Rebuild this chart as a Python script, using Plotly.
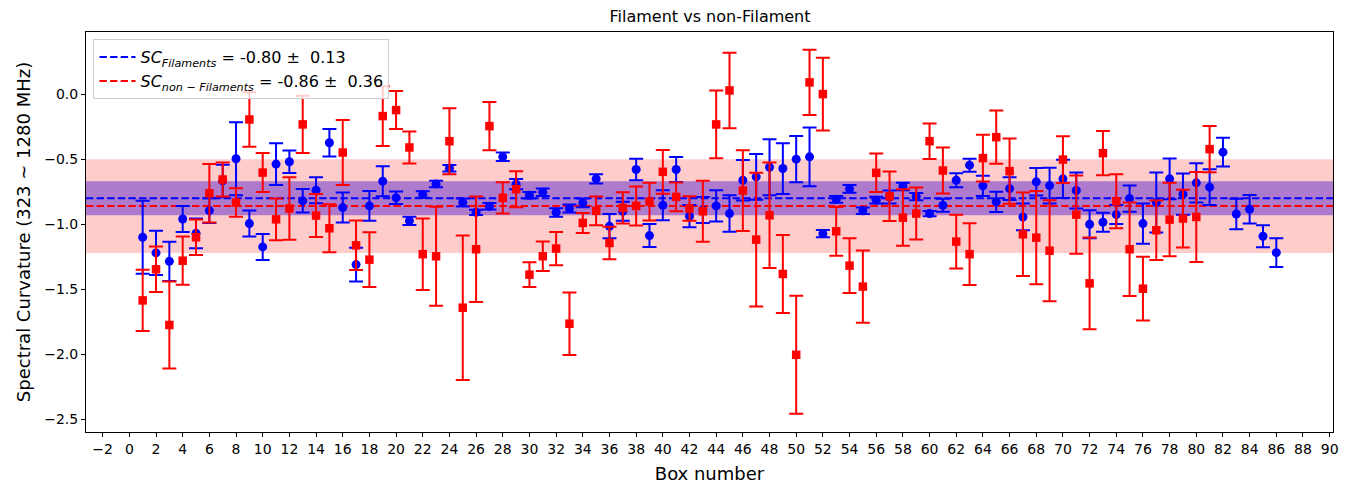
import plotly.graph_objects as go

# ---------------- data ----------------
fil_box = list(range(1, 87))
fil_sc = [-1.10, -1.22, -1.285, -0.96, -1.07, -0.895, -0.667, -0.497, -0.995, -1.174,
          -0.538, -0.52, -0.82, -0.738, -0.374, -0.872, -1.31, -0.859, -0.669, -0.797,
          -0.974, -0.772, -0.69, -0.569, -0.833, -0.908, -0.862, -0.482, -0.692, -0.777,
          -0.754, -0.91, -0.879, -0.836, -0.651, -1.015, -0.90, -0.579, -1.087, -0.854,
          -0.579, -0.938, -0.89, -0.859, -0.918, -0.662, -0.636, -0.562, -0.572, -0.50,
          -0.482, -1.072, -0.808, -0.728, -0.897, -0.815, -0.79, -0.71, -0.787, -0.918,
          -0.854, -0.662, -0.546, -0.705, -0.828, -0.726, -0.944, -0.674, -0.703, -0.651,
          -0.741, -1.0, -0.985, -0.926, -0.803, -0.995, -0.833, -0.651, -0.769, -0.682,
          -0.715, -0.446, -0.921, -0.885, -1.092, -1.218]
fil_err = [0.28, 0.17, 0.15, 0.10, 0.115, 0.095, 0.125, 0.28, 0.10, 0.10,
           0.16, 0.087, 0.09, 0.10, 0.105, 0.115, 0.13, 0.115, 0.115, 0.048,
           0.032, 0.025, 0.025, 0.025, 0.03, 0.02, 0.025, 0.033, 0.04, 0.025,
           0.028, 0.032, 0.03, 0.033, 0.036, 0.093, 0.073, 0.082, 0.088, 0.116,
           0.096, 0.085, 0.10, 0.12, 0.14, 0.155, 0.176, 0.215, 0.195, 0.178,
           0.226, 0.028, 0.026, 0.03, 0.025, 0.026, 0.05, 0.028, 0.028, 0.02,
           0.05, 0.054, 0.05, 0.077, 0.077, 0.087, 0.103, 0.106, 0.137, 0.147,
           0.138, 0.107, 0.073, 0.073, 0.10, 0.155, 0.23, 0.157, 0.158, 0.15,
           0.138, 0.11, 0.117, 0.11, 0.085, 0.11]

nonfil_box = list(range(1, 82))
nonfil_sc = [-1.585, -1.346, -1.774, -1.28, -1.10, -0.762, -0.656, -0.833, -0.195, -0.603,
             -0.962, -0.879, -0.233, -0.933, -1.031, -0.449, -1.162, -1.272, -0.169, -0.123,
             -0.41, -1.23, -1.246, -0.362, -1.641, -1.192, -0.246, -0.797, -0.731, -1.387,
             -1.246, -1.187, -1.764, -0.99, -0.897, -1.144, -0.874, -0.859, -0.826, -0.597,
             -0.79, -0.879, -0.90, -0.233, 0.028, -0.741, -1.118, -0.931, -1.382, -2.003,
             0.09, 0.0, -1.054, -1.318, -1.479, -0.605, -0.785, -0.949, -0.918, -0.362,
             -0.587, -1.133, -1.23, -0.492, -0.331, -0.592, -1.077, -1.103, -1.203, -0.503,
             -0.926, -1.454, -0.454, -0.823, -1.192, -1.495, -1.046, -0.964, -0.956, -0.944,
             -0.423]
nonfil_err = [0.235, 0.175, 0.335, 0.185, 0.137, 0.225, 0.13, 0.11, 0.21, 0.15,
              0.16, 0.24, 0.22, 0.165, 0.185, 0.25, 0.19, 0.21, 0.23, 0.146,
              0.123, 0.275, 0.38, 0.254, 0.555, 0.405, 0.185, 0.12, 0.138, 0.095,
              0.113, 0.128, 0.24, 0.077, 0.11, 0.125, 0.12, 0.15, 0.145, 0.168,
              0.11, 0.095, 0.235, 0.26, 0.29, 0.31, 0.513, 0.405, 0.30, 0.453,
              0.25, 0.28, 0.187, 0.21, 0.277, 0.148, 0.19, 0.217, 0.20, 0.137,
              0.177, 0.206, 0.237, 0.18, 0.205, 0.25, 0.32, 0.358, 0.388, 0.18,
              0.30, 0.353, 0.17, 0.207, 0.36, 0.245, 0.228, 0.282, 0.222, 0.346,
              0.177]

fil_mean, fil_std = -0.80, 0.13
nonfil_mean, nonfil_std = -0.86, 0.36

x_ticks = list(range(-2, 91, 2))
x_ticktext = [("\u2212" + str(-v)) if v < 0 else str(v) for v in x_ticks]
y_ticks = [0.0, -0.5, -1.0, -1.5, -2.0, -2.5]
y_ticktext = ["0.0", "\u22120.5", "\u22121.0", "\u22121.5", "\u22122.0", "\u22122.5"]

x_range = [-3.25, 90.25]
y_range = [-2.596, 0.477]

FONT = "DejaVu Sans"

fig = go.Figure()

# mean lines (legend entries)
fig.add_trace(go.Scatter(
    x=x_range, y=[fil_mean, fil_mean], mode="lines",
    line=dict(color="blue", width=2, dash="7.4px,3.2px"),
    name="<i>SC</i><sub><i>Filaments</i></sub> = -0.80 \u00b1  0.13",
))
fig.add_trace(go.Scatter(
    x=x_range, y=[nonfil_mean, nonfil_mean], mode="lines",
    line=dict(color="red", width=2, dash="7.4px,3.2px"),
    name="<i>SC</i><sub><i>non \u2212 Filaments</i></sub> = -0.86 \u00b1  0.36",
))

# data with error bars
fig.add_trace(go.Scatter(
    x=fil_box, y=fil_sc, mode="markers", showlegend=False,
    marker=dict(color="blue", size=9, symbol="circle"),
    error_y=dict(type="data", array=fil_err, color="blue", thickness=2, width=7),
))
fig.add_trace(go.Scatter(
    x=nonfil_box, y=nonfil_sc, mode="markers", showlegend=False,
    marker=dict(color="red", size=8.5, symbol="square"),
    error_y=dict(type="data", array=nonfil_err, color="red", thickness=2, width=7),
))

# bands
fig.add_shape(type="rect", xref="paper", x0=0, x1=1, yref="y",
              y0=fil_mean - fil_std, y1=fil_mean + fil_std,
              fillcolor="rgba(0,0,255,0.4)", line=dict(width=0), layer="below")
fig.add_shape(type="rect", xref="paper", x0=0, x1=1, yref="y",
              y0=nonfil_mean - nonfil_std, y1=nonfil_mean + nonfil_std,
              fillcolor="rgba(255,0,0,0.2)", line=dict(width=0), layer="below")

fig.update_layout(
    width=1353, height=485,
    margin=dict(l=86, r=20, t=32, b=53, autoexpand=False),
    paper_bgcolor="white", plot_bgcolor="white",
    font=dict(family=FONT, size=14, color="black"),
    title=dict(text="Filament vs non-Filament", x=0.5248, xanchor="center",
               y=0.967, yanchor="middle", font=dict(size=16, family=FONT)),
    showlegend=True,
    legend=dict(x=0.006, y=0.982, xanchor="left", yanchor="top",
                bgcolor="rgba(255,255,255,0.8)", bordercolor="#cccccc", borderwidth=1,
                font=dict(size=16, family=FONT), tracegroupgap=0, itemwidth=36),
)
fig.update_xaxes(
    range=x_range, tickmode="array", tickvals=x_ticks, ticktext=x_ticktext,
    ticks="outside", ticklen=4, tickwidth=1, tickcolor="black",
    showline=True, linecolor="black", linewidth=1, mirror=True,
    showgrid=False, zeroline=False, automargin=False,
    title=dict(text="Box number", font=dict(size=18, family=FONT), standoff=11),
    tickfont=dict(size=14, family=FONT),
)
fig.update_yaxes(
    range=y_range, tickmode="array", tickvals=y_ticks, ticktext=y_ticktext,
    ticks="outside", ticklen=4, tickwidth=1, tickcolor="black",
    showline=True, linecolor="black", linewidth=1, mirror=True,
    showgrid=False, zeroline=False, automargin=False,
    title=dict(text="Spectral Curvature (323 ~ 1280 MHz)", font=dict(size=18, family=FONT), standoff=8),
    tickfont=dict(size=14, family=FONT),
)

fig.write_html("out.html")
